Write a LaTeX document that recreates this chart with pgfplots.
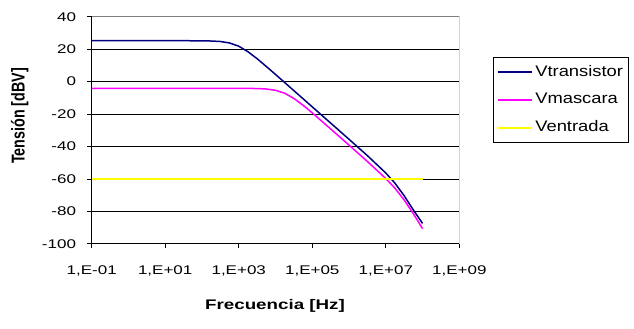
\documentclass[border=0pt]{standalone}
\usepackage{pgfplots}
\pgfplotsset{compat=1.18}
\usepackage{fontspec}
\setmainfont{Liberation Sans}[FakeStretch=1.35]
\newfontfamily\legfont{Liberation Sans}[FakeStretch=1.2]
\newfontfamily\ylabfont{Liberation Sans}
\definecolor{vtr}{RGB}{0,0,128}
\definecolor{vma}{RGB}{255,0,255}
\definecolor{ven}{RGB}{255,255,0}
\definecolor{bordergray}{RGB}{128,128,128}
\begin{document}
\begin{tikzpicture}
\path[use as bounding box] (0,0) rectangle (634bp,329bp);
\begin{axis}[
  at={(91.7bp,85.3bp)}, anchor=south west,
  scale only axis, width=367.6bp, height=227bp,
  xmode=log, log basis x=10,
  xmin=0.1, xmax=1e9, ymin=-100, ymax=40,
  axis x line*=bottom, axis y line*=left,
  axis line style={black, line width=0.6bp},
  xtick={0.1,10,1000,1e5,1e7,1e9},
  xticklabels={{1,E-01},{1,E+01},{1,E+03},{1,E+05},{1,E+07},{1,E+09}},
  xminorticks=false,
  ytick={-100,-80,-60,-40,-20,0,20,40},
  yticklabels={-100,-80,-60,-40,-20,0,20,40},
  tick align=outside, major tick length=4.5bp,
  tick style={black, line width=0.6bp},
  ymajorgrids, grid style={black, line width=0.6bp},
  ticklabel style={font=\fontsize{12.6bp}{15bp}\selectfont},
  xticklabel style={anchor=base, inner sep=0pt, yshift=-26.5bp},
  yticklabel style={anchor=east, inner sep=0pt, xshift=-11bp},
  xlabel={Frecuencia [Hz]},
  xlabel style={at={(axis description cs:0.4986,-0.274)}, anchor=center,
    font=\bfseries\fontsize{13.9bp}{16bp}\selectfont},
  ylabel={Tensión [dBV]},
  ylabel style={at={(axis description cs:-0.196,0.5626)}, anchor=center, yscale=1.3,
    font=\ylabfont\bfseries\fontsize{14.3bp}{16bp}\selectfont},
  legend style={at={(axis description cs:1.0925,0.821)}, anchor=north west,
    draw=black, line width=0.6bp, inner xsep=3.6bp, inner ysep=0.5bp,
    column sep=0bp, row sep=0bp,
    font=\legfont\fontsize{15.3bp}{17bp}\selectfont,
    nodes={inner xsep=2.1bp, inner ysep=6.9bp, text height=11bp, text depth=3bp}},
  legend cell align=left,
  legend image code/.code={\draw[#1, line width=2bp] (0bp,0bp) -- (34bp,0bp);},
]
\draw[bordergray, line width=0.8bp] (rel axis cs:0,1) -- (rel axis cs:1,1) -- (rel axis cs:1,0);
\addplot[vtr, line width=1.5bp] coordinates {
(1e-1,25.2) (1e0,25.2) (1e1,25.2) (1e2,25.15) (177.8,25.0) (316.2,24.7) (562.3,23.8)
(1000,21.8) (1778,18.4) (3162,14.1) (5623,9.3) (1e4,4.4) (3.162e4,-5.6) (1e5,-15.6)
(3.162e5,-25.6) (1e6,-35.6) (3.162e6,-45.7) (1e7,-56.4) (1.778e7,-62.7) (3.162e7,-70.4)
(5.623e7,-79.2) (1e8,-87.5)
};
\addlegendentry{Vtransistor}
\addplot[vma, line width=1.5bp] coordinates {
(1e-1,-4.2) (1e0,-4.2) (1e1,-4.2) (1e2,-4.2) (1e3,-4.2) (3162,-4.3) (5623,-4.6)
(1e4,-5.4) (1.778e4,-7.2) (3.162e4,-10.4) (5.623e4,-14.6) (1e5,-19.3) (3.162e5,-29.2)
(1e6,-39.2) (3.162e6,-49.3) (1e7,-59.8) (1.778e7,-65.8) (3.162e7,-73.0) (5.623e7,-81.5)
(1e8,-90.7)
};
\addlegendentry{Vmascara}
\addplot[ven, line width=1.5bp] coordinates {
(1e-1,-60) (1e8,-60)
};
\addlegendentry{Ventrada}
\end{axis}
\end{tikzpicture}
\end{document}
